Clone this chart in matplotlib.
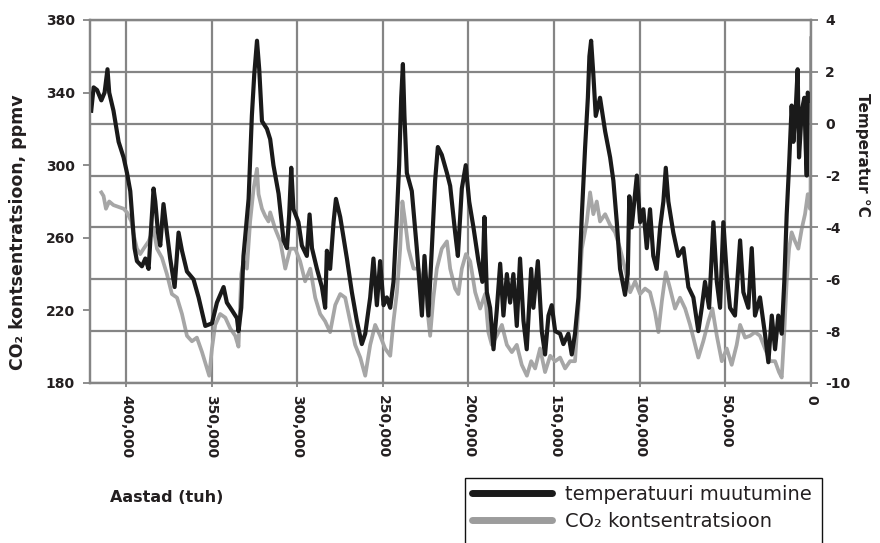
import matplotlib
matplotlib.use("Agg")
import matplotlib.pyplot as plt
from matplotlib.lines import Line2D
from matplotlib.patches import Rectangle

# Vostok ice core (years before present)
temp_years = [420300, 418900, 416900, 414400, 412500, 410800, 409800, 407300, 404300, 401400,
              399400, 397500, 396500, 395000, 393600, 390700, 388700, 386800, 384800, 383900,
              382900, 381300, 380000, 378100, 376100, 374200, 371600, 369300, 367300, 364400,
              360600, 357600, 353700, 349800, 346900, 343000, 341100, 338100, 335200, 334300,
              332700, 331400, 328400, 326500, 325100, 323500, 322200, 320600, 317700, 315800,
              313900, 310900, 308000, 306000, 304700, 303500, 302200, 299300, 297300, 294400,
              292800, 291400, 288500, 285600, 283700, 282700, 280800, 278800, 277400, 274900,
              271000, 268100, 265200, 262300, 260300, 257400, 255500, 253500, 251600, 249600,
              247700, 245700, 243800, 241800, 240500, 239300, 238300, 237400, 236000, 233100,
              230200, 227200, 225700, 223400, 221400, 219500, 217900, 215600, 212600, 210700,
              207800, 206200, 203900, 201600, 199600, 197100, 194200, 191900, 190700, 189300,
              187400, 185400, 183500, 181500, 179600, 177600, 175700, 173800, 171800, 169900,
              167900, 166000, 163400, 162100, 159500, 157200, 155300, 153300, 151400, 149400,
              146500, 144600, 141700, 139700, 137800, 135800, 133800, 131900, 130300, 129400,
              128400, 127100, 125700, 123200, 120200, 117300, 115400, 113400, 111500, 108600,
              107000, 106100, 104700, 101700, 99800, 97900, 95900, 94000, 92100, 90100,
              88100, 86200, 84800, 83300, 80400, 77500, 74500, 71600, 68700, 65800,
              63800, 61900, 59500, 57000, 55000, 53100, 51200, 49200, 47300, 44400,
              41400, 39500, 36600, 34600, 32700, 29800, 26900, 24900, 22900, 21000,
              19100, 17100, 15600, 14200, 12800, 11300, 10300, 8900, 7800, 7000,
              5400, 3900, 3100, 2500, 1900, 600]
temp_values = [0.5, 1.4, 1.3, 0.9, 1.2, 2.1, 1.2, 0.5, -0.7, -1.3,
               -1.9, -2.6, -3.5, -4.8, -5.3, -5.5, -5.2, -5.6, -3.5, -2.5,
               -3.0, -4.2, -4.7, -3.1, -4.2, -5.2, -6.3, -4.2, -4.9, -5.7,
               -6.0, -6.7, -7.8, -7.7, -6.9, -6.3, -6.9, -7.2, -7.5, -8.0,
               -7.1, -5.1, -2.9, 0.3, 1.9, 3.2, 2.1, 0.1, -0.2, -0.6,
               -1.6, -2.7, -4.5, -4.8, -3.5, -1.7, -3.3, -3.8, -4.7, -5.1,
               -3.5, -4.8, -5.6, -6.3, -7.1, -4.9, -5.6, -3.8, -2.9, -3.6,
               -5.2, -6.5, -7.6, -8.5, -8.1, -6.7, -5.2, -7.0, -5.3, -7.0,
               -6.7, -7.1, -6.1, -3.5, -1.6, 1.0, 2.3, 0.3, -1.9, -2.6,
               -4.8, -7.4, -5.1, -7.4, -4.8, -2.2, -0.9, -1.2, -1.9, -2.4,
               -4.2, -5.1, -2.5, -1.6, -3.0, -4.0, -5.3, -6.1, -3.6, -6.5,
               -7.1, -8.7, -7.2, -5.4, -7.4, -5.8, -6.9, -5.8, -7.8, -5.2,
               -7.6, -8.7, -5.6, -7.1, -5.3, -8.0, -8.9, -7.4, -7.0, -8.0,
               -8.1, -8.5, -8.1, -8.9, -8.1, -6.7, -3.5, -0.9, 1.0, 2.6,
               3.2, 1.9, 0.3, 1.0, -0.3, -1.3, -2.2, -3.8, -5.6, -6.6,
               -5.8, -2.8, -4.0, -2.0, -3.8, -3.3, -4.8, -3.3, -5.1, -5.6,
               -4.0, -3.0, -1.7, -3.0, -4.2, -5.1, -4.8, -6.3, -6.7, -8.0,
               -7.1, -6.1, -7.1, -3.8, -6.1, -7.1, -3.8, -5.8, -7.1, -7.4,
               -4.5, -6.5, -7.1, -4.8, -7.4, -6.7, -8.1, -9.2, -7.4, -8.7,
               -7.4, -8.1, -6.1, -3.5, -1.6, 0.7, -0.7, 0.6, 2.1, -1.3,
               0.5, 1.0, -0.9, -2.0, 1.2, 0.9]

co2_years = [414400, 413100, 411700, 409800, 407300, 404300, 401400, 399400, 396900, 395600,
             393600, 391700, 389700, 386800, 383900, 381900, 379000, 376100, 373200, 370200,
             367300, 364400, 361500, 358600, 355600, 352700, 351400, 349800, 347900, 345000,
             342000, 339100, 336200, 334300, 332700, 331400, 329400, 327500, 325500, 323500,
             322600, 320600, 318700, 316800, 315800, 312900, 309900, 307000, 304100, 301200,
             298300, 295400, 292400, 289500, 286600, 283700, 280800, 277800, 274900, 272000,
             269100, 266200, 263200, 260300, 257400, 254500, 251600, 248700, 245700, 243800,
             241800, 239900, 238600, 237000, 235100, 232100, 229200, 227200, 225300, 222400,
             220500, 218500, 215600, 212600, 210700, 207800, 205900, 203900, 201500, 199000,
             196100, 193200, 190300, 188400, 186400, 183500, 180500, 177600, 174700, 171800,
             168900, 165900, 163400, 161100, 158200, 155300, 152300, 149400, 146500, 143600,
             140700, 137800, 135800, 133800, 130900, 129000, 127100, 125100, 123200, 120200,
             117300, 114400, 111500, 108600, 105600, 102700, 99800, 96900, 94000, 91100,
             89100, 87100, 84800, 82300, 79400, 76500, 73500, 70600, 67700, 65800,
             62900, 59900, 57600, 55000, 52100, 49200, 46300, 43400, 41400, 38500,
             35600, 32700, 29800, 26900, 23900, 21000, 18700, 17100, 15600, 14200,
             12800, 11300, 9300, 7400, 5400, 3500, 1900, 600, 300, 0]
co2_values = [285, 283, 276, 280, 278, 277, 276, 274, 269, 262,
              254, 251, 254, 258, 265, 254, 249, 240, 229, 227,
              218, 206, 203, 205, 197, 188, 184, 199, 212, 218,
              216, 210, 206, 200, 240, 247, 243, 269, 287, 298,
              284, 276, 272, 269, 274, 265, 258, 243, 254, 254,
              247, 236, 243, 227, 218, 214, 208, 223, 229, 227,
              214, 201, 194, 184, 201, 212, 206, 199, 195, 214,
              230, 254, 280, 269, 254, 243, 243, 236, 232, 206,
              227, 243, 254, 258, 243, 232, 229, 243, 251, 247,
              230, 221, 229, 208, 201, 206, 212, 201, 197, 201,
              190, 184, 192, 188, 199, 186, 195, 192, 194, 188,
              192, 192, 221, 254, 269, 285, 273, 280, 269, 273,
              267, 263, 254, 243, 230, 236, 229, 232, 230, 219,
              208, 225, 241, 232, 221, 227, 221, 212, 201, 194,
              203, 214, 221, 206, 192, 199, 190, 201, 212, 205,
              206, 208, 206, 199, 192, 192, 186, 183, 208, 236,
              254, 263, 258, 254, 265, 273, 284, 276, 282, 370]

x_ticks = [400000, 350000, 300000, 250000, 200000, 150000, 100000, 50000, 0]
x_labels = ["400,000", "350,000", "300,000", "250,000", "200,000",
            "150,000", "100,000", "50,000", "0"]
co2_ticks = [180, 220, 260, 300, 340, 380]
temp_ticks = [-10, -8, -6, -4, -2, 0, 2, 4]

grid_col = "#858585"
txt_col = "#231f20"
plt.rcParams['font.family'] = ['DejaVu Sans']

fig = plt.figure(figsize=(8.8, 5.43), dpi=100)
ax = fig.add_axes([0.1023, 0.2947, 0.8193, 0.6685])
ax2 = ax.twinx()

ax.plot(co2_years, co2_values, color="#a6a6a6", lw=2.7)
ax2.plot(temp_years, temp_values, color="#1a1a1a", lw=3.0)

ax.set_xlim(421000, 0)
ax.set_ylim(180, 380)
ax2.set_ylim(-10, 4)

ax.set_xticks(x_ticks)
ax.set_xticklabels(x_labels, rotation=270, fontsize=10, fontweight="bold",
                   color=txt_col, va="top", ha="center")
ax.set_yticks(co2_ticks)
ax.set_yticklabels([str(v) for v in co2_ticks], fontsize=10, fontweight="bold", color=txt_col)
ax2.set_yticks(temp_ticks)
ax2.set_yticklabels([str(v) for v in temp_ticks], fontsize=10,
                    fontweight="bold", color=txt_col)

ax.grid(True, axis="x", color=grid_col, lw=1.6)
ax2.grid(True, axis="y", color=grid_col, lw=1.6)
ax.set_axisbelow(True)

for a in (ax, ax2):
    for s in a.spines.values():
        s.set_color(grid_col)
        s.set_linewidth(1.6)
ax.tick_params(axis="y", length=5, width=1.3, color=grid_col, pad=6)
ax.tick_params(axis="x", length=3, width=1.3, color=grid_col, pad=6)
ax2.tick_params(axis="y", length=5, width=1.3, color=grid_col, pad=5)

fig.text(18 / 880, 1 - 232 / 543, "CO₂ kontsentratsioon, ppmv", rotation=90,
         fontsize=12.5, fontweight="bold", color=txt_col, ha="center", va="center")
fig.text(862 / 880, 1 - 155 / 543, "Temperatur °C", rotation=270,
         fontsize=11, fontweight="bold", color=txt_col, ha="center", va="center")
fig.text(110 / 880, 1 - 497 / 543, "Aastad (tuh)", fontsize=11.5, fontweight="bold",
         color=txt_col, ha="left", va="center")

# legend box runs off the bottom of the picture
fig.patches.append(Rectangle((465 / 880, -0.1), 357 / 880, 0.1 + 65 / 543,
                             transform=fig.transFigure, fill=False, ec="#111111", lw=1.0))
handles = [Line2D([], [], color="#1a1a1a", lw=5, solid_capstyle="round"),
           Line2D([], [], color="#9c9c9c", lw=5, solid_capstyle="round")]
fig.legend(handles, ["temperatuuri muutumine", "CO₂ kontsentratsioon"],
           loc="upper left", bbox_to_anchor=(465 / 880, 1 - 478 / 543),
           frameon=False, fontsize=14, handlelength=4.1, handletextpad=0.7,
           borderpad=0.35, borderaxespad=0, labelspacing=0.4, labelcolor=txt_col)

fig.savefig("out.png", dpi=100)
